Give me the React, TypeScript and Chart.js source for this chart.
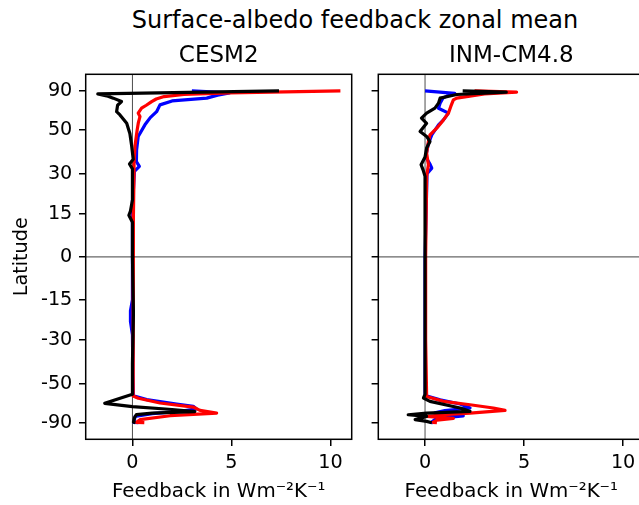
import React, { useEffect, useRef } from 'react';
import { Chart, registerables } from 'chart.js';

Chart.register(...registerables);

const FONT = "'DejaVu Sans', sans-serif";

const SUPTITLE = 'Surface-albedo feedback zonal mean';
const MODELS = ['CESM2', 'INM-CM4.8'];
const X_LABEL = 'Feedback in Wm⁻²K⁻¹';
const Y_LABEL = 'Latitude';
const LAT_TICKS = [90, 50, 30, 15, 0, -15, -30, -50, -90];
const FEEDBACK_TICKS = [0, 5, 10];
const X_MIN = -2.36;
const X_MAX = 11.07;
const Y_LIM = 1.1;

// CESM2
const CESM2_BLACK_LAT = [89.5, 79, 76, 73, 69.4, 66, 61, 58.8, 53.6, 48, 42, 36, 34, 32, 28, 20, 16, 14.5, 12, 0, -20, -40, -56, -62, -64.5, -67, -69, -70.5, -72, -76, -85, -89];
const CESM2_BLACK_VAL = [7.4, -1.75, -1.3, -0.97, -0.55, -0.75, -0.8, -0.63, -0.29, -0.13, -0.04, 0.04, -0.15, 0, 0, 0, -0.1, -0.18, 0, 0, 0.05, 0, 0, -1.4, 0, 2.0, 3.15, 1.0, 0.2, 0.1, 0.05, 0.15];
const CESM2_RED_LAT = [89.5, 81, 78, 75, 72, 69.3, 66, 63.6, 60, 57.7, 54, 50, 42, 34, 30, 15, 0, -20, -40, -57, -58.5, -61.8, -64.9, -67.8, -70.4, -73.3, -79, -86, -89.5];
const CESM2_RED_VAL = [10.5, 4.9, 2.6, 1.6, 1.2, 0.97, 0.7, 0.46, 0.29, 0.38, 0.3, 0.24, 0.13, 0.08, 0.08, 0.05, 0.03, 0.03, 0.03, 0.05, 0.3, 1.39, 3.07, 3.41, 4.25, 1.9, 0.38, 0.2, 0.6];
const CESM2_BLUE_LAT = [89.5, 81, 77, 73, 70, 66.3, 61, 57, 52.7, 46.5, 40, 35, 33, 31, 20, 0, -15, -19, -23, -28, -45, -56.9, -59.4, -62.5, -64.3, -66.5, -68.5, -71, -74.2, -80, -87, -89.5];
const CESM2_BLUE_VAL = [3.0, 4.9, 4.3, 3.75, 2.0, 1.39, 1.22, 0.9, 0.63, 0.29, 0.21, 0.2, 0.35, 0.1, 0.02, 0, 0, -0.1, -0.1, 0, 0.02, 0.05, 0.72, 2.23, 3.07, 3.24, 2.5, 1.0, 0.13, 0.1, 0.07, 0.3];

// INM-CM4.8
const INM_BLACK_LAT = [89.5, 83, 78, 73, 67.8, 63.6, 60, 56.7, 53.6, 49, 46.5, 44, 41, 37, 33.7, 31.6, 29, 0, -30, -56, -58.3, -60.6, -65.7, -68.7, -70.4, -72.2, -74.2, -79, -82.7, -89];
const INM_BLACK_VAL = [1.9, 4.1, 1.6, 0.76, 0.68, 0.5, 0.08, -0.18, 0.08, -0.25, 0.08, 0.25, 0.08, 0, -0.2, -0.1, 0, 0, 0, 0, -0.08, 0.25, 1.77, 2.27, 0.08, -0.85, 0.08, -0.5, 0.08, 0.34];
const INM_RED_LAT = [89.5, 83, 79, 73, 71, 65, 60, 55.6, 50.8, 47.3, 44, 38.6, 33.7, 29, 0, -30, -57.3, -60.6, -63.1, -65.7, -67.8, -70.4, -72.2, -74.2, -77, -80, -86, -89];
const INM_RED_VAL = [2.5, 4.62, 3.0, 1.6, 1.43, 1.3, 1.18, 0.93, 0.59, 0.25, 0.17, 0.08, 0.17, 0.08, 0.03, 0.03, 0.08, 0.93, 2.27, 3.45, 4.04, 2.27, 0.93, 0.1, 1.43, 0.6, 0.4, 0.6];
const INM_BLUE_LAT = [89.5, 80, 77, 73, 67.8, 63.6, 60, 55.6, 52.7, 47.3, 43, 37, 34, 32.3, 30, 0, -30, -56, -57, -59.6, -62.5, -65.7, -68, -70, -73.5, -76, -79, -87, -89.5];
const INM_BLUE_VAL = [0, 1.5, 1.2, 0.9, 0.76, 0.68, 1.18, 0.93, 0.68, 0.34, 0.17, 0.03, 0.25, 0.34, 0.1, 0, 0, 0, 0.1, 0.76, 1.77, 2.27, 1.0, 0.5, 1.93, 1.0, 0.5, 0.3, 0.4];

const toSin = (lat: number) => Math.sin((lat * Math.PI) / 180);
const toPts = (lat: number[], val: number[]) => lat.map((l, i) => ({ x: val[i], y: toSin(l) }));

const framePlugin = {
  id: 'frame',
  afterDraw(chart: any) {
    const { ctx, chartArea } = chart;
    const { left, top, right, bottom } = chartArea;
    ctx.save();
    ctx.strokeStyle = '#000';
    ctx.lineWidth = 1.5;
    ctx.strokeRect(left, top, right - left, bottom - top);
    ctx.restore();
  },
};

function lineDs(label: string, data: any[], color: string, width: number, order: number) {
  return {
    label,
    data,
    borderColor: color,
    backgroundColor: color,
    borderWidth: width,
    borderJoinStyle: 'round',
    borderCapStyle: 'butt',
    showLine: true,
    pointRadius: 0,
    pointHoverRadius: 0,
    tension: 0,
    fill: false,
    order,
  };
}

function makeConfig(title: string, blue: any[], red: any[], black: any[], showY: boolean, yWidth: number, padRight: number) {
  return {
    type: 'scatter',
    data: {
      datasets: [
        lineDs('zero-lat', [{ x: X_MIN, y: 0 }, { x: X_MAX, y: 0 }], 'rgba(0,0,0,0.6)', 1.3, 0),
        lineDs('black', black, '#000000', 3.2, 1),
        lineDs('red', red, '#ff0000', 3.2, 2),
        lineDs('blue', blue, '#0000ff', 3.2, 3),
        lineDs('zero-feedback', [{ x: 0, y: -Y_LIM }, { x: 0, y: Y_LIM }], 'rgba(0,0,0,0.7)', 1, 4),
      ],
    },
    options: {
      responsive: false,
      animation: false,
      devicePixelRatio: 1,
      layout: { padding: { left: 0, right: padRight, top: 0, bottom: 0 } },
      plugins: {
        legend: { display: false },
        tooltip: { enabled: false },
        title: {
          display: true,
          text: title,
          color: '#000',
          fullSize: false,
          font: { family: FONT, size: 23, weight: 'normal' },
          padding: { top: 42.2, bottom: 4.5 },
        },
      },
      scales: {
        x: {
          type: 'linear',
          min: X_MIN,
          max: X_MAX,
          afterBuildTicks: (axis: any) => {
            axis.ticks = FEEDBACK_TICKS.map((v) => ({ value: v }));
          },
          afterFit: (s: any) => {
            s.height = 65.7;
          },
          ticks: {
            color: '#000',
            font: { family: FONT, size: 19.2 },
            padding: 5,
            autoSkip: false,
            maxRotation: 0,
            callback: (v: any) => String(v),
          },
          grid: { drawOnChartArea: false, drawTicks: true, tickLength: 6.7, color: '#000', lineWidth: 1.5 },
          border: { display: false },
          title: {
            display: true,
            text: X_LABEL,
            color: '#000',
            font: { family: FONT, size: 19.8 },
            padding: { top: 0, bottom: 1.5 },
          },
        },
        y: {
          type: 'linear',
          min: -Y_LIM,
          max: Y_LIM,
          afterBuildTicks: (axis: any) => {
            axis.ticks = LAT_TICKS.map((l) => ({ value: toSin(l) }));
          },
          afterFit: (s: any) => {
            s.width = yWidth;
          },
          ticks: {
            display: showY,
            color: '#000',
            font: { family: FONT, size: 19.2 },
            padding: 6.7,
            autoSkip: false,
            callback: (_v: any, i: number) => String(LAT_TICKS[i]),
          },
          grid: { drawOnChartArea: false, drawTicks: true, tickLength: 6.7, color: '#000', lineWidth: 1.5 },
          border: { display: false },
          title: {
            display: showY,
            text: Y_LABEL,
            color: '#000',
            font: { family: FONT, size: 19.2 },
            padding: { top: 10.5, bottom: 0 },
          },
        },
      },
    },
    plugins: [framePlugin],
  } as any;
}

export default function App() {
  const leftRef = useRef<HTMLCanvasElement>(null);
  const rightRef = useRef<HTMLCanvasElement>(null);

  useEffect(() => {
    const c1 = new Chart(
      leftRef.current as HTMLCanvasElement,
      makeConfig(
        MODELS[0],
        toPts(CESM2_BLUE_LAT, CESM2_BLUE_VAL),
        toPts(CESM2_RED_LAT, CESM2_RED_VAL),
        toPts(CESM2_BLACK_LAT, CESM2_BLACK_VAL),
        true,
        85.7,
        13.3
      )
    );
    const c2 = new Chart(
      rightRef.current as HTMLCanvasElement,
      makeConfig(
        MODELS[1],
        toPts(INM_BLUE_LAT, INM_BLUE_VAL),
        toPts(INM_RED_LAT, INM_RED_VAL),
        toPts(INM_BLACK_LAT, INM_BLACK_VAL),
        false,
        13.3,
        20.7
      )
    );
    return () => {
      c1.destroy();
      c2.destroy();
    };
  }, []);

  return (
    <div style={{ position: 'absolute', left: 0, top: 0, width: 639, height: 505, overflow: 'hidden', background: '#fff' }}>
      <div
        style={{
          position: 'absolute',
          left: 0,
          top: 7.7,
          width: 710,
          textAlign: 'center',
          fontFamily: FONT,
          fontSize: 24,
          lineHeight: '24px',
          color: '#000',
          whiteSpace: 'nowrap',
        }}
      >
        {SUPTITLE}
      </div>
      <canvas ref={leftRef} width={365} height={505} style={{ position: 'absolute', left: 0, top: 0 }} />
      <canvas ref={rightRef} width={300} height={505} style={{ position: 'absolute', left: 365, top: 0 }} />
    </div>
  );
}
